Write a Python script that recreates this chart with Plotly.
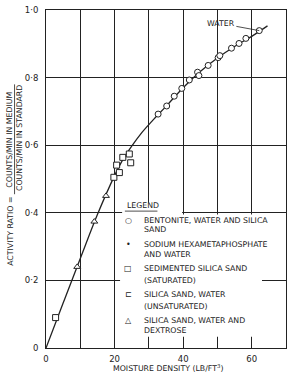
import plotly.graph_objects as go

# ---- data ----
curve_x = [0, 5, 10, 15, 20, 22, 25, 28, 31, 35, 40, 45, 50, 55, 60, 64.6]
curve_y = [0, 0.133, 0.265, 0.395, 0.51, 0.55, 0.597, 0.638, 0.672, 0.715, 0.77, 0.818, 0.858, 0.892, 0.922, 0.953]

bentonite_x = [32.7, 35.2, 37.4, 39.6, 41.8, 44.2, 44.6, 47.3, 50.2, 50.7, 54.1, 56.3, 58.3, 62.2]
bentonite_y = [0.692, 0.716, 0.745, 0.768, 0.793, 0.816, 0.806, 0.836, 0.859, 0.865, 0.887, 0.901, 0.916, 0.939]

sedimented_x = [19.8, 21.4, 20.6, 22.4, 24.3, 24.7]
sedimented_y = [0.505, 0.519, 0.541, 0.564, 0.574, 0.548]

unsaturated_x = [2.8]
unsaturated_y = [0.09]

dextrose_x = [9.1, 14.1, 17.5]
dextrose_y = [0.24, 0.374, 0.45]

x_tickvals = [0, 20, 40, 60]
x_ticktext = ["0", "20", "40", "60"]
x_gridvals = [10, 30, 50, 70]
y_tickvals = [0, 0.2, 0.4, 0.6, 0.8, 1.0]
y_ticktext = ["0", "0·2", "0·4", "0·6", "0·8", "1·0"]

legend_items = [
    ("○", ["BENTONITE, WATER AND SILICA", "SAND"]),
    ("•", ["SODIUM HEXAMETAPHOSPHATE", "AND WATER"]),
    ("□", ["SEDIMENTED SILICA SAND", "(SATURATED)"]),
    ("⊏", ["SILICA SAND, WATER", "(UNSATURATED)"]),
    ("△", ["SILICA SAND, WATER AND", "DEXTROSE"]),
]

INK = "#222222"
FONT = "DejaVu Sans"

fig = go.Figure()
fig.add_trace(go.Scatter(x=curve_x, y=curve_y, mode="lines",
                         line=dict(color=INK, width=1.3, shape="spline", smoothing=1.0),
                         hoverinfo="skip"))
mk = dict(color="white", size=6, line=dict(color=INK, width=1))
fig.add_trace(go.Scatter(x=bentonite_x, y=bentonite_y, mode="markers",
                         marker=dict(symbol="circle", **mk)))
fig.add_trace(go.Scatter(x=sedimented_x, y=sedimented_y, mode="markers",
                         marker=dict(symbol="square", **mk)))
fig.add_trace(go.Scatter(x=unsaturated_x, y=unsaturated_y, mode="markers",
                         marker=dict(symbol="square", **mk)))
fig.add_trace(go.Scatter(x=dextrose_x, y=dextrose_y, mode="markers",
                         marker=dict(symbol="triangle-up", **mk)))

shapes = [
    # white legend box covering the grid
    dict(type="rect", xref="x", yref="y", x0=21.6, x1=63.0, y0=0.033, y1=0.395,
         fillcolor="white", line=dict(width=0), layer="between"),
    dict(type="rect", xref="x", yref="y", x0=22.2, x1=39.7, y0=0.39, y1=0.43,
         fillcolor="white", line=dict(width=0), layer="between"),
    # fraction bar in y title
    dict(type="line", xref="paper", yref="paper", x0=-0.131, x1=-0.131, y0=0.455, y1=0.78,
         line=dict(color=INK, width=0.8)),
    # LEGEND underline
    dict(type="line", xref="x", yref="y", x0=23.0, x1=32.5, y0=0.405, y1=0.405,
         line=dict(color=INK, width=0.8)),
]

ann = []
tf = dict(family=FONT, size=7.8, color=INK)
ann.append(dict(x=23.0, y=0.421, xref="x", yref="y", text="LEGEND", showarrow=False,
                xanchor="left", yanchor="middle", font=tf))
rows = [(0.377, 0.352), (0.306, 0.278), (0.234, 0.201), (0.157, 0.122), (0.081, 0.051)]
for (sym, lines), (y1, y2) in zip(legend_items, rows):
    ann.append(dict(x=24.0, y=y1, xref="x", yref="y", text=sym, showarrow=False,
                    xanchor="center", yanchor="middle", font=dict(family=FONT, size=8, color=INK)))
    ann.append(dict(x=28.0, y=y1, xref="x", yref="y", text=lines[0], showarrow=False,
                    xanchor="left", yanchor="middle", font=tf))
    ann.append(dict(x=28.0, y=y2, xref="x", yref="y", text=lines[1], showarrow=False,
                    xanchor="left", yanchor="middle", font=tf))

# WATER label
ann.append(dict(x=62.2, y=0.939, xref="x", yref="y", ax=51.0, ay=0.96, axref="x", ayref="y",
                text="WATER", showarrow=True, arrowhead=0, arrowwidth=0.8, arrowcolor=INK,
                font=tf, xanchor="center", yanchor="middle"))

# axis titles
ann.append(dict(x=0.51, y=-0.058, xref="paper", yref="paper", text="MOISTURE DENSITY (LB/FT<sup>3</sup>)",
                showarrow=False, xanchor="center", yanchor="middle", font=tf))
ann.append(dict(x=-0.148, y=0.345, xref="paper", yref="paper", text="ACTIVITY RATIO =",
                showarrow=False, textangle=-90, xanchor="center", yanchor="middle", font=tf))
ann.append(dict(x=-0.152, y=0.615, xref="paper", yref="paper", text="COUNTS/MIN IN MEDIUM",
                showarrow=False, textangle=-90, xanchor="center", yanchor="middle", font=tf))
ann.append(dict(x=-0.11, y=0.62, xref="paper", yref="paper", text="COUNTS/MIN IN STANDARD",
                showarrow=False, textangle=-90, xanchor="center", yanchor="middle", font=tf))

fig.update_layout(
    width=287, height=373,
    margin=dict(l=46, r=1, t=10, b=25),
    paper_bgcolor="white", plot_bgcolor="white",
    showlegend=False,
    shapes=shapes, annotations=ann,
    font=dict(family=FONT, size=8, color=INK),
)
fig.update_xaxes(range=[0, 70], tickvals=x_tickvals, ticktext=x_ticktext,
                 showgrid=True, gridcolor=INK, gridwidth=1,
                 minor=dict(tickvals=x_gridvals, showgrid=True, gridcolor=INK, gridwidth=1, ticks=""),
                 showline=True, linecolor=INK, linewidth=1, mirror=True,
                 ticks="", zeroline=False, tickfont=dict(family=FONT, size=8.5, color=INK),
                 ticklabelstandoff=3)
fig.update_yaxes(range=[0, 1.0], tickvals=y_tickvals, ticktext=y_ticktext,
                 showgrid=True, gridcolor=INK, gridwidth=1,
                 showline=True, linecolor=INK, linewidth=1, mirror=True,
                 ticks="", zeroline=False, tickfont=dict(family=FONT, size=8.5, color=INK),
                 ticklabelstandoff=5)

fig.write_html("out.html")
